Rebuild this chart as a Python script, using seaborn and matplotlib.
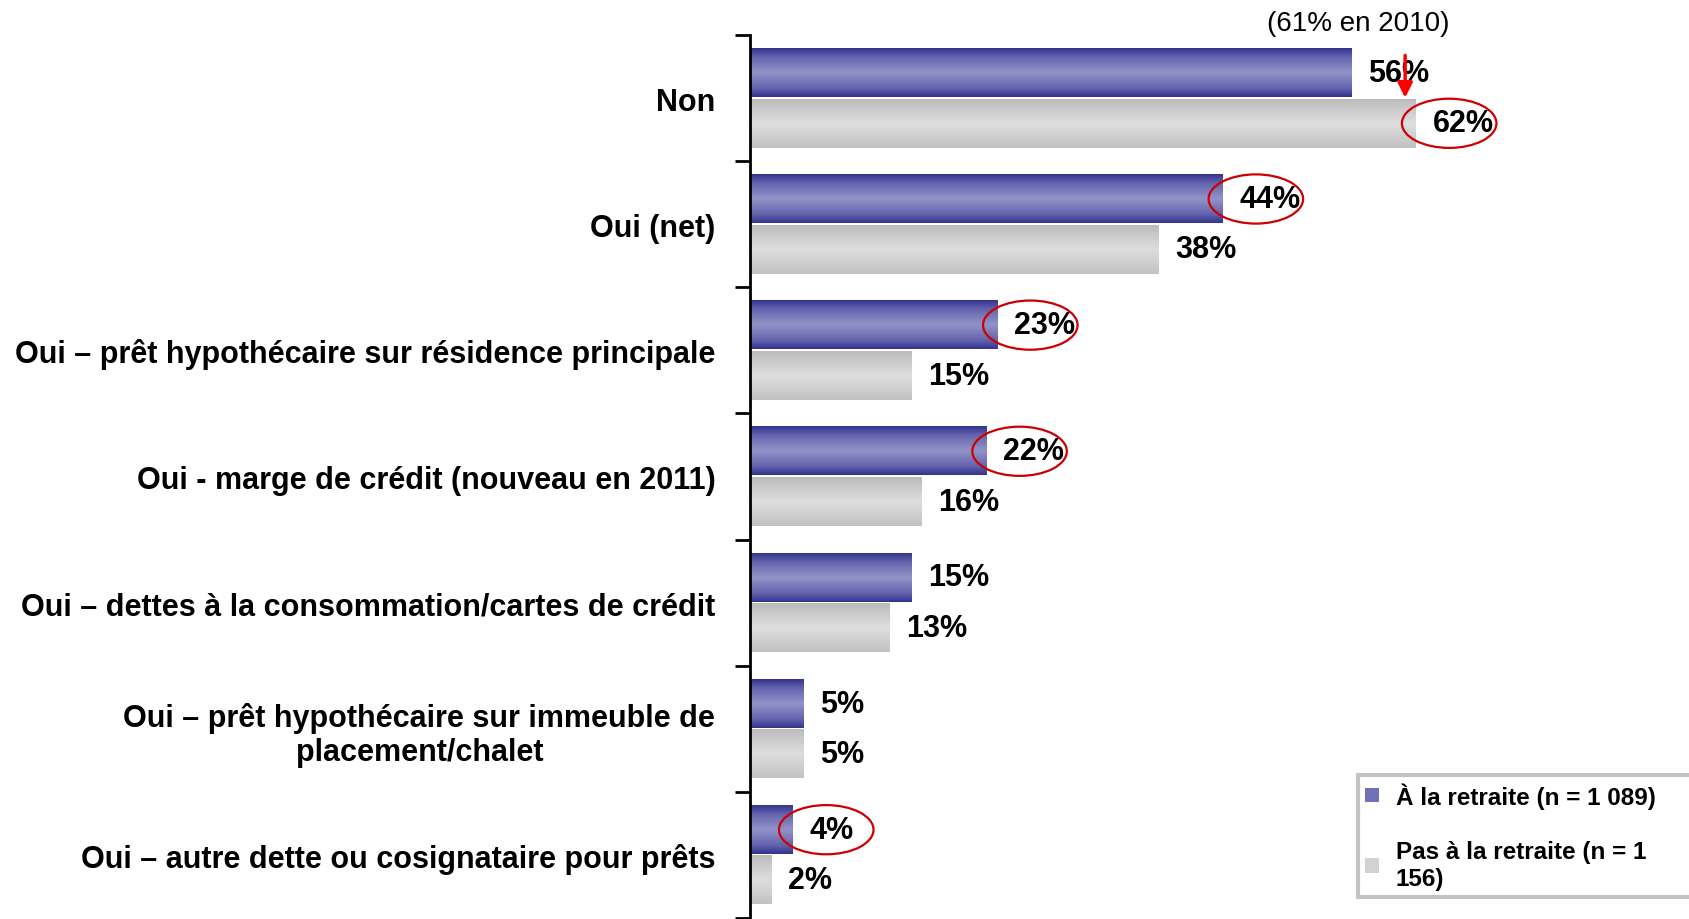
import numpy as np
import pandas as pd
import matplotlib
matplotlib.use("Agg")
import matplotlib.pyplot as plt
import matplotlib.font_manager as fm
from matplotlib.colors import LinearSegmentedColormap
from matplotlib.patches import Ellipse, Patch
from matplotlib.transforms import blended_transform_factory
import seaborn as sns

# ---- data ----
categories = [
    "Non",
    "Oui (net)",
    "Oui – prêt hypothécaire sur résidence principale",
    "Oui - marge de crédit (nouveau en 2011)",
    "Oui – dettes à la consommation/cartes de crédit",
    "Oui – prêt hypothécaire sur immeuble de\nplacement/chalet",
    "Oui – autre dette ou cosignataire pour prêts",
]
series_names = ["À la retraite (n = 1 089)", "Pas à la retraite (n = 1\n156)"]
retired = [56, 44, 23, 22, 15, 5, 4]
not_retired = [62, 38, 15, 16, 13, 5, 2]
circled_retired = [False, True, True, True, False, False, True]
circled_not_retired = [True, False, False, False, False, False, False]
note_text = "(61% en 2010)"
note_value = 61

sns.set_style("white")
names = {f.name for f in fm.fontManager.ttflist}
narrow = "Liberation Sans Narrow" if "Liberation Sans Narrow" in names else "Liberation Sans"
plt.rcParams["font.family"] = [narrow, "DejaVu Sans"]
plt.rcParams["text.color"] = "black"

df = pd.DataFrame({
    "cat": categories * 2,
    "val": retired + not_retired,
    "grp": [series_names[0]] * len(categories) + [series_names[1]] * len(categories),
})

blue_solid = "#7070b8"
grey_solid = "#d2d2d2"
fig = plt.figure(figsize=(16.9, 9.2), dpi=100)
ax = fig.add_axes([750 / 1690, 1 / 920, 940 / 1690, 883 / 920])
sns.barplot(data=df, y="cat", x="val", hue="grp", order=categories,
            hue_order=series_names, palette=[blue_solid, grey_solid],
            orient="h", width=0.8, ax=ax, legend=False)

blue_cmap = LinearSegmentedColormap.from_list(
    "b", [(0, "#34348f"), (0.18, "#6464ae"), (0.5, "#9393c9"), (0.82, "#6464ae"), (1, "#34348f")])
grey_cmap = LinearSegmentedColormap.from_list(
    "g", [(0, "#bcbcbc"), (0.5, "#dedede"), (1, "#c2c2c2")])
grad = np.linspace(0, 1, 64).reshape(-1, 1)

for cont, cmap in zip(ax.containers, [blue_cmap, grey_cmap]):
    for bar in cont:
        x0, y0 = bar.get_x(), bar.get_y()
        w, h = bar.get_width(), bar.get_height()
        h_eff = h * 0.96
        yc = y0 + h / 2
        ax.imshow(grad, cmap=cmap, aspect="auto", interpolation="bilinear",
                  extent=[x0, x0 + w, yc + h_eff / 2, yc - h_eff / 2], zorder=2)
        bar.set_visible(False)

xmax = 940 / 10.74
ax.set_xlim(0, xmax)
ax.set_ylim(len(categories) - 0.5, -0.5)

# value labels + ellipses
for cont, vals, circ in zip(ax.containers, [retired, not_retired],
                            [circled_retired, circled_not_retired]):
    for bar, v, c in zip(cont, vals, circ):
        yc = bar.get_y() + bar.get_height() / 2
        ax.annotate(f"{v}%", (v, yc), xytext=(12, 0), textcoords="offset points",
                    ha="left", va="center", fontsize=22, fontweight="bold",
                    color="black", zorder=5)
        if c:
            ax.add_patch(Ellipse((v + 3.1, yc), 8.8, 0.39, fill=False,
                                 edgecolor="#cc0000", lw=1.6, zorder=6))

# arrow and note
yb = ax.containers[0][0]
y_top = yb.get_y() + 0.04
y_end = ax.containers[1][0].get_y() + 0.02
ax.annotate("", xy=(note_value, y_end), xytext=(note_value, y_top),
            arrowprops=dict(arrowstyle="-|>", color="red", lw=2.5, mutation_scale=22),
            zorder=7)
tr = blended_transform_factory(ax.transData, fig.transFigure)
ax.text(56.6, 0.974, note_text, transform=tr, ha="center", va="center",
        fontsize=20, color="black")

# axes styling
for s in ["top", "right", "bottom"]:
    ax.spines[s].set_visible(False)
ax.spines["left"].set_color("black")
ax.spines["left"].set_linewidth(2)
ax.set_xticks([])
ax.set_xlabel("")
ax.set_ylabel("")
ax.set_yticks(range(len(categories)))
ax.set_yticklabels(categories, fontsize=22, fontweight="bold", color="black")
for lab in ax.get_yticklabels():
    lab.set_multialignment("center")
ax.set_yticks(np.arange(-0.5, len(categories), 1), minor=True)
ax.tick_params(axis="y", which="major", length=0, pad=25, left=False)
ax.tick_params(axis="y", which="minor", left=True, length=11, width=2,
               direction="out", color="black")

# legend
handles = [Patch(facecolor=blue_solid, edgecolor="none"),
           Patch(facecolor=grey_solid, edgecolor="none")]
lx = 1358 / 1690
leg = fig.legend(handles, series_names, loc="lower left",
                 bbox_to_anchor=(lx, 22 / 920, 1.005 - lx, 0), mode="expand",
                 borderaxespad=0,
                 frameon=True, fancybox=False, handlelength=0.55, handleheight=0.55,
                 handletextpad=0.7, labelspacing=1.3, borderpad=0.3,
                 prop={"family": [narrow, "DejaVu Sans"], "weight": "bold", "size": 17.5})
leg.get_frame().set_edgecolor("#b5b5b5")
leg.get_frame().set_linewidth(3)
for t in leg.get_texts():
    t.set_color("black")

fig.savefig("out.png", dpi=100)
